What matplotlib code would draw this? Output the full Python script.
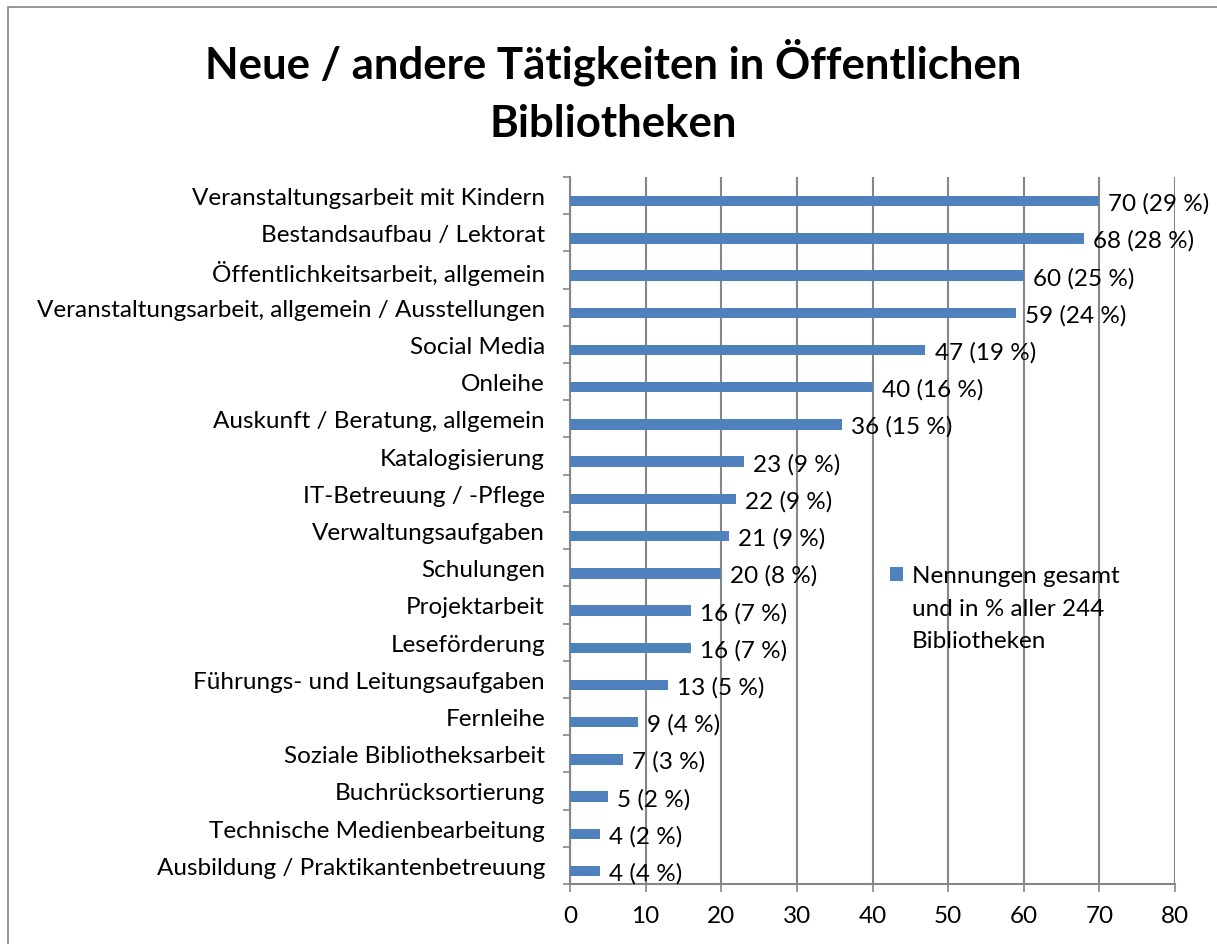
import matplotlib
matplotlib.use("Agg")
import matplotlib.pyplot as plt
from matplotlib.patches import Rectangle

plt.rcParams['font.family'] = ['Lato', 'DejaVu Sans']

categories = [
    "Veranstaltungsarbeit mit Kindern",
    "Bestandsaufbau / Lektorat",
    "Öffentlichkeitsarbeit, allgemein",
    "Veranstaltungsarbeit, allgemein / Ausstellungen",
    "Social Media",
    "Onleihe",
    "Auskunft / Beratung, allgemein",
    "Katalogisierung",
    "IT-Betreuung / -Pflege",
    "Verwaltungsaufgaben",
    "Schulungen",
    "Projektarbeit",
    "Leseförderung",
    "Führungs- und Leitungsaufgaben",
    "Fernleihe",
    "Soziale Bibliotheksarbeit",
    "Buchrücksortierung",
    "Technische Medienbearbeitung",
    "Ausbildung / Praktikantenbetreuung",
]
counts = [70, 68, 60, 59, 47, 40, 36, 23, 22, 21, 20, 16, 16, 13, 9, 7, 5, 4, 4]
percents = [29, 28, 25, 24, 19, 16, 15, 9, 9, 9, 8, 7, 7, 5, 4, 3, 2, 2, 4]
x_ticks = [0, 10, 20, 30, 40, 50, 60, 70, 80]
legend_lines = ["Nennungen gesamt", "und in % aller 244", "Bibliotheken"]

bar_color = '#4F81BD'
grid_color = '#868686'
fs = 17.5

fig = plt.figure(figsize=(12.17, 9.45), dpi=100)
W, H = 1217, 945
ax = fig.add_axes([570 / W, 1 - 885 / H, 605 / W, 707 / H])

n = len(categories)
ypos = list(range(n))
# bars sit a bit below the category centre, as in the original
bar_pos = [y + 0.15 for y in ypos]
ax.barh(bar_pos, counts, height=0.28, color=bar_color, zorder=3, label=legend_lines[0])
for y, c, p in zip(bar_pos, counts, percents):
    ax.text(c + 1.2, y + 0.05, f"{c} ({p} %)", va='center', ha='left', fontsize=fs, zorder=4)

ax.set_ylim(n - 0.5, -0.5)
ax.set_xlim(0, 80)
ax.set_yticks(ypos)
ax.set_yticklabels(categories, fontsize=fs)
ax.set_yticks([i - 0.5 for i in range(n + 1)], minor=True)
ax.tick_params(axis='y', which='major', length=0, pad=18)
ax.tick_params(axis='y', which='minor', length=5, color=grid_color, width=1.2)
ax.set_xticks(x_ticks)
ax.set_xticklabels([str(v) for v in x_ticks], fontsize=fs)
ax.tick_params(axis='x', length=6, color=grid_color, width=1.2, pad=9)

ax.grid(axis='x', color=grid_color, linewidth=1.5, zorder=0)
for s in ['top', 'right']:
    ax.spines[s].set_visible(False)
for s in ['left', 'bottom']:
    ax.spines[s].set_color(grid_color)
    ax.spines[s].set_linewidth(1.5)

# white legend area hides the gridlines behind it
ax.add_patch(Rectangle((880 / W, 1 - 683 / H), 250 / W, 158 / H, transform=fig.transFigure,
                       facecolor='white', edgecolor='none', zorder=1))
leg = ax.legend(loc='center left', bbox_to_anchor=(885 / W, 1 - 577 / H),
                bbox_transform=fig.transFigure, frameon=False, borderaxespad=0,
                fontsize=fs, handlelength=0.55, handleheight=0.55,
                handletextpad=0.35, borderpad=0.2)
fig.canvas.draw()
bb = leg.get_texts()[0].get_window_extent()
x_txt = bb.x0 / W
for i, line in enumerate(legend_lines[1:]):
    fig.text(x_txt, 1 - (610 + 31 * i) / H, line, ha='left', va='center', fontsize=fs)

fig.text(613 / W, 1 - 91 / H, "Neue / andere Tätigkeiten in Öffentlichen\nBibliotheken",
         ha='center', va='center', fontsize=31.5, fontweight='bold', linespacing=1.55)

fig.patches.append(Rectangle((8 / W, -0.1), 1.2, 1 - 8 / H + 0.1, transform=fig.transFigure,
                             fill=False, edgecolor=grid_color, linewidth=1.2))

fig.savefig("out.png", dpi=100)
